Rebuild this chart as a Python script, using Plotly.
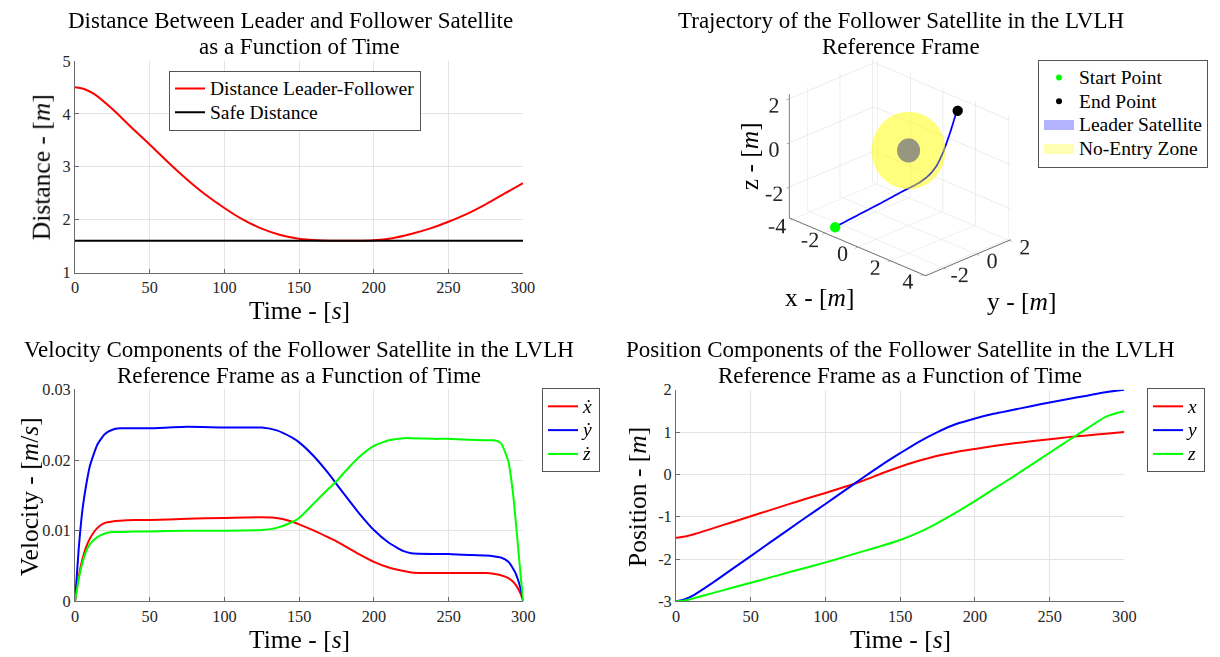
import numpy as np
import plotly.graph_objects as go

FONT = "Liberation Serif"

# page placement: window pixel = offset + scale * figure pixel
VIEW_SCALE_X, VIEW_OFFSET_X = 0.987, 3.0
VIEW_SCALE_Y, VIEW_OFFSET_Y = 0.975, 7.2
W = round((1220 - VIEW_OFFSET_X) / VIEW_SCALE_X)
H = round((657 - VIEW_OFFSET_Y) / VIEW_SCALE_Y)

# ---------------- data ----------------
# distance between leader and follower
t_dist = [0, 6, 12.5, 25, 37.5, 50, 62.5, 75, 87.5, 100, 112.5, 125, 137.5, 150,
          162.5, 175, 187.5, 200, 212.5, 225, 237.5, 250, 262.5, 275, 287.5, 300]
distance = [4.50, 4.47, 4.38, 4.09, 3.75, 3.42, 3.08, 2.76, 2.47, 2.22, 2.00, 1.83, 1.71, 1.64,
            1.61, 1.60, 1.60, 1.61, 1.65, 1.73, 1.83, 1.96, 2.11, 2.29, 2.49, 2.69]
safe_distance = 1.6

# velocity components
t_vel = [0, 2.5, 5, 7.5, 10, 15, 20, 25, 30, 40, 50, 75, 100, 125, 135, 145, 150, 160,
         170, 175, 180, 190, 200, 210, 220, 225, 240, 250, 260, 275, 280, 285, 290,
         293, 295, 297, 298.5, 300]
vel_x = [0, 0.0035, 0.0060, 0.0077, 0.0089, 0.0104, 0.0111, 0.0113, 0.0114, 0.0115,
         0.0115, 0.0117, 0.0118, 0.0119, 0.0118, 0.0113, 0.0109, 0.0100, 0.0090, 0.0085,
         0.0079, 0.0067, 0.0056, 0.0048, 0.0043, 0.0041, 0.0040, 0.0040, 0.0040, 0.0040,
         0.0039, 0.0037, 0.0033, 0.0028, 0.0023, 0.0016, 0.0009, 0]
vel_y = [0, 0.0075, 0.0130, 0.0165, 0.0192, 0.0222, 0.0237, 0.0243, 0.0245, 0.0245,
         0.0245, 0.0247, 0.0246, 0.0246, 0.0242, 0.0232, 0.0225, 0.0205, 0.0180, 0.0166,
         0.0152, 0.0125, 0.0101, 0.0083, 0.0071, 0.0068, 0.0067, 0.0067, 0.0066, 0.0065,
         0.0064, 0.0062, 0.0056, 0.0047, 0.0039, 0.0027, 0.0015, 0]
vel_z = [0, 0.0032, 0.0055, 0.0071, 0.0081, 0.0091, 0.0096, 0.0098, 0.0098, 0.0099,
         0.0099, 0.0100, 0.0100, 0.0101, 0.0104, 0.0112, 0.0118, 0.0139, 0.0160, 0.0170,
         0.0182, 0.0204, 0.0220, 0.0228, 0.0231, 0.0231, 0.0230, 0.0230, 0.0229, 0.0228,
         0.0228, 0.0224, 0.0198, 0.0155, 0.0112, 0.0065, 0.0030, 0]

# position components
t_pos = [0, 6, 12.5, 25, 37.5, 50, 62.5, 75, 87.5, 100, 112.5, 125, 137.5, 150,
         162.5, 175, 187.5, 200, 212.5, 225, 237.5, 250, 262.5, 275, 287.5, 300]
pos_x = [-1.50, -1.47, -1.41, -1.27, -1.13, -0.99, -0.85, -0.71, -0.57, -0.44, -0.30, -0.15,
         0.02, 0.18, 0.32, 0.44, 0.53, 0.60, 0.67, 0.73, 0.78, 0.83, 0.88, 0.92, 0.96, 1.00]
pos_y = [-3.00, -2.95, -2.84, -2.55, -2.24, -1.93, -1.62, -1.31, -1.00, -0.70, -0.39, -0.08,
         0.22, 0.50, 0.77, 1.00, 1.19, 1.32, 1.43, 1.52, 1.61, 1.70, 1.78, 1.86, 1.94, 2.00]
pos_z = [-3.00, -2.98, -2.92, -2.80, -2.68, -2.56, -2.44, -2.32, -2.20, -2.08, -1.95, -1.82,
         -1.69, -1.55, -1.37, -1.15, -0.90, -0.63, -0.35, -0.07, 0.22, 0.51, 0.80, 1.08,
         1.36, 1.49]

# leader satellite body and keep-out sphere
leader_center = [0.0, 0.0, 0.0]
leader_radius = 0.5
zone_radius = 1.6

# tick labels
time_ticks = [0, 50, 100, 150, 200, 250, 300]
time_labels = ["0", "50", "100", "150", "200", "250", "300"]
dist_ticks = [1, 2, 3, 4, 5]
dist_labels = ["1", "2", "3", "4", "5"]
vel_ticks = [0, 0.01, 0.02, 0.03]
vel_labels = ["0", "0.01", "0.02", "0.03"]
pos_ticks = [-3, -2, -1, 0, 1, 2]
pos_labels = ["-3", "-2", "-1", "0", "1", "2"]
x3_ticks = [-4, -2, 0, 2, 4]
x3_labels = ["-4", "-2", "0", "2", "4"]
y3_ticks = [-2, 0, 2]
y3_labels = ["-2", "0", "2"]
z3_ticks = [-2, 0, 2]
z3_labels = ["-2", "0", "2"]


def fx(p):
    """window pixel column -> paper fraction"""
    return (p - VIEW_OFFSET_X) / VIEW_SCALE_X / W


def fy(p):
    """window pixel row -> paper fraction"""
    return 1 - (p - VIEW_OFFSET_Y) / VIEW_SCALE_Y / H


AXIS_COL = "#6b6b6b"
GRID_COL = "#e4e4e4"
TICKFONT = dict(family=FONT, size=16.3, color="#262626")
LEGEND_TEXT_PX = 19.5


def leg_name(text):
    return f"<span style='font-size:{LEGEND_TEXT_PX}px'>{text}</span>"


def axis2d(rng, tv, tt, anchor, lo, hi, vertical=False):
    d = dict(range=rng, tickvals=tv, ticktext=tt, showgrid=True, gridcolor=GRID_COL,
             gridwidth=1, zeroline=False, showline=True, linecolor=AXIS_COL, linewidth=1,
             ticks="inside", ticklen=4, tickcolor=AXIS_COL, tickfont=TICKFONT,
             anchor=anchor, fixedrange=True)
    d["domain"] = [fy(lo), fy(hi)] if vertical else [fx(lo), fx(hi)]
    return d


fig = go.Figure()

# --- distance panel ---
fig.add_trace(go.Scatter(x=t_dist, y=distance, mode="lines",
                         line=dict(color="#ff0000", width=2, shape="spline", smoothing=1.0),
                         name=leg_name("Distance Leader-Follower"), xaxis="x", yaxis="y", legend="legend"))
fig.add_trace(go.Scatter(x=[time_ticks[0], time_ticks[-1]], y=[safe_distance, safe_distance], mode="lines",
                         line=dict(color="#000000", width=2), name=leg_name("Safe Distance"),
                         xaxis="x", yaxis="y", legend="legend"))


# --- trajectory panel ---
def sphere(center, radius, n_u=72, n_v=36):
    u = np.linspace(0, 2 * np.pi, n_u)
    v = np.linspace(0, np.pi, n_v)
    xs = center[0] + radius * np.outer(np.cos(u), np.sin(v))
    ys = center[1] + radius * np.outer(np.sin(u), np.sin(v))
    zs = center[2] + radius * np.outer(np.ones_like(u), np.cos(v))
    return xs, ys, zs


flat_light = dict(ambient=1.0, diffuse=0.0, specular=0.0, roughness=1.0, fresnel=0.0)

lx, ly, lz = sphere(leader_center, leader_radius)
fig.add_trace(go.Surface(x=lx, y=ly, z=lz, surfacecolor=np.zeros_like(lx),
                         colorscale=[[0, "#6a6ab5"], [1, "#6a6ab5"]], showscale=False,
                         lighting=flat_light, hoverinfo="skip", showlegend=False, scene="scene"))
zx, zy, zz = sphere(leader_center, zone_radius)
fig.add_trace(go.Surface(x=zx, y=zy, z=zz, surfacecolor=np.zeros_like(zx),
                         colorscale=[[0, "#ffff00"], [1, "#ffff00"]], showscale=False, opacity=0.3,
                         lighting=flat_light, hoverinfo="skip", showlegend=False, scene="scene"))
fig.add_trace(go.Scatter3d(x=pos_x, y=pos_y, z=pos_z, mode="lines", line=dict(color="#0000ff", width=3.5),
                           showlegend=False, hoverinfo="skip", scene="scene"))
fig.add_trace(go.Scatter3d(x=[pos_x[0]], y=[pos_y[0]], z=[pos_z[0]], mode="markers",
                           marker=dict(color="#00ff00", size=6), name=leg_name("Start Point"),
                           scene="scene", legend="legend2"))
fig.add_trace(go.Scatter3d(x=[pos_x[-1]], y=[pos_y[-1]], z=[pos_z[-1]], mode="markers",
                           marker=dict(color="#000000", size=6), name=leg_name("End Point"),
                           scene="scene", legend="legend2"))
# legend swatches for the two spheres
fig.add_trace(go.Scatter(x=[None], y=[None], mode="lines", line=dict(color="#b3b3ff", width=16),
                         name=leg_name("Leader Satellite"), xaxis="x", yaxis="y", legend="legend2"))
fig.add_trace(go.Scatter(x=[None], y=[None], mode="lines", line=dict(color="#ffffb3", width=16),
                         name=leg_name("No-Entry Zone"), xaxis="x", yaxis="y", legend="legend2"))

# --- velocity panel ---
for vals, col, nm in [(vel_x, "#ff0000", "<i>ẋ</i>"), (vel_y, "#0000ff", "<i>ẏ</i>"),
                      (vel_z, "#00ff00", "<i>ż</i>")]:
    fig.add_trace(go.Scatter(x=t_vel, y=vals, mode="lines",
                             line=dict(color=col, width=2, shape="spline", smoothing=0.5),
                             name=leg_name(nm), xaxis="x2", yaxis="y2", legend="legend3"))

# --- position panel ---
for vals, col, nm in [(pos_x, "#ff0000", "<i>x</i>"), (pos_y, "#0000ff", "<i>y</i>"),
                      (pos_z, "#00ff00", "<i>z</i>")]:
    fig.add_trace(go.Scatter(x=t_pos, y=vals, mode="lines",
                             line=dict(color=col, width=2, shape="spline", smoothing=0.8),
                             name=leg_name(nm), xaxis="x3", yaxis="y3", legend="legend4"))

# row pitch of the legends follows the legend font size; entry text is sized by leg_name
LEG = dict(bgcolor="#ffffff", bordercolor="#555555", borderwidth=1,
           font=dict(family=FONT, size=16, color="#000000"), xanchor="left", yanchor="top",
           tracegroupgap=0, traceorder="normal")


def axis3d(rng, tv, tt):
    return dict(range=rng, tickvals=tv, ticktext=tt, title=dict(text=""), showbackground=False,
                showgrid=True, gridcolor="#dcdcdc", gridwidth=1, zeroline=False,
                showline=True, linecolor=AXIS_COL, linewidth=2, ticks="outside", ticklen=4,
                tickcolor=AXIS_COL, tickfont=TICKFONT, tickangle=0, showspikes=False)


zoom3d = 1.45
fig.update_layout(
    width=W, height=H, autosize=False, margin=dict(l=0, r=0, t=0, b=0),
    paper_bgcolor="#ffffff", plot_bgcolor="#ffffff", showlegend=True,
    xaxis=axis2d([0, 300], time_ticks, time_labels, "y", 74, 522),
    yaxis=axis2d([1, 5], dist_ticks, dist_labels, "x", 271.7, 59.3, vertical=True),
    xaxis2=axis2d([0, 300], time_ticks, time_labels, "y2", 74, 522.3),
    yaxis2=axis2d([0, 0.03], vel_ticks, vel_labels, "x2", 601.7, 389, vertical=True),
    xaxis3=axis2d([0, 300], time_ticks, time_labels, "y3", 675, 1123.3),
    yaxis3=axis2d([-3, 2], pos_ticks, pos_labels, "x3", 601.7, 389.3, vertical=True),
    scene=dict(
        domain=dict(x=[fx(740), fx(1058)], y=[fy(299), fy(32)]),
        xaxis=axis3d([-4.2, 4.15], x3_ticks, x3_labels),
        yaxis=axis3d([-3.1, 2.1], y3_ticks, y3_labels),
        zaxis=axis3d([-3.4, 2.2], z3_ticks, z3_labels),
        aspectmode="manual",
        aspectratio=dict(x=1.0 * zoom3d, y=0.623 * zoom3d, z=0.708 * zoom3d),
        camera=dict(projection=dict(type="orthographic"),
                    eye=dict(x=1.3, y=-1.3, z=0.86),
                    up=dict(x=0, y=0, z=1), center=dict(x=0, y=0, z=0)),
        bgcolor="rgba(0,0,0,0)",
    ),
    legend=dict(LEG, x=fx(168), y=fy(69)),
    legend2=dict(LEG, x=fx(1037), y=fy(58)),
    legend3=dict(LEG, x=fx(541), y=fy(388)),
    legend4=dict(LEG, x=fx(1146), y=fy(388)),
)

TITLE_FONT = dict(family=FONT, size=23, color="#000000")
LABEL_FONT = dict(family=FONT, size=25.5, color="#000000")
ann = []
for text, cx, cy in [
    ("Distance Between Leader and Follower Satellite", 289, 19),
    ("as a Function of Time", 298, 45),
    ("Trajectory of the Follower Satellite in the LVLH", 900, 19),
    ("Reference Frame", 900, 45),
    ("Velocity Components of the Follower Satellite in the LVLH", 298, 349),
    ("Reference Frame as a Function of Time", 298, 375),
    ("Position Components of the Follower Satellite in the LVLH", 899, 349),
    ("Reference Frame as a Function of Time", 899, 375),
]:
    ann.append(dict(text=text, x=fx(cx), y=fy(cy), xref="paper", yref="paper", xanchor="center",
                    yanchor="middle", showarrow=False, font=TITLE_FONT))
for text, cx, cy, ang in [
    ("Time - [<i>s</i>]", 298, 310, 0),
    ("Time - [<i>s</i>]", 298, 640, 0),
    ("Time - [<i>s</i>]", 899, 640, 0),
    ("Distance - [<i>m</i>]", 40, 166, -90),
    ("Velocity - [<i>m</i>/<i>s</i>]", 28, 497, -90),
    ("Position - [<i>m</i>]", 636, 497, -90),
    ("x - [<i>m</i>]", 818, 297, 0),
    ("y - [<i>m</i>]", 1020, 301, 0),
    ("z - [<i>m</i>]", 748, 155, -90),
]:
    ann.append(dict(text=text, x=fx(cx), y=fy(cy), xref="paper", yref="paper", xanchor="center",
                    yanchor="middle", showarrow=False, font=LABEL_FONT, textangle=ang))
fig.update_layout(annotations=ann)

fig.write_html("out.html")
